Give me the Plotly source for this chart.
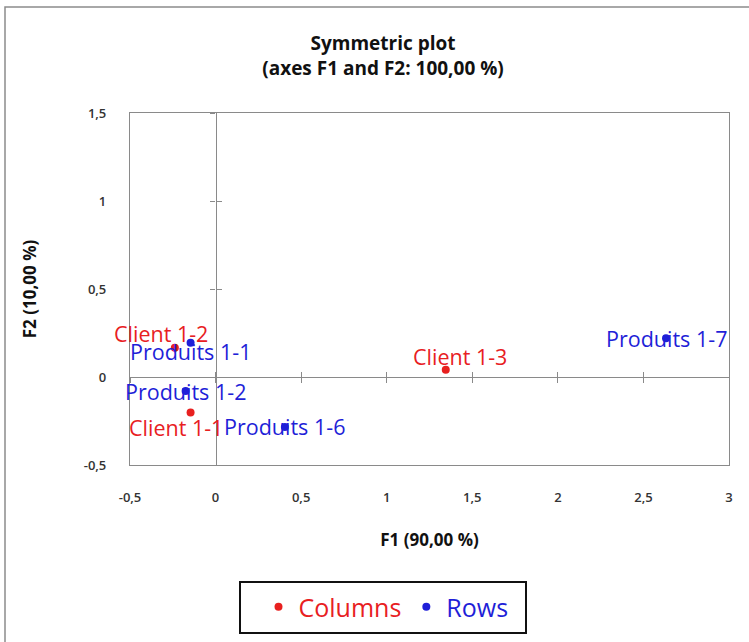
import plotly.graph_objects as go

# ---- data ----
col_labels = ["Client 1-1", "Client 1-2", "Client 1-3"]
col_f1 = [-0.146, -0.238, 1.345]
col_f2 = [-0.201, 0.166, 0.041]

row_labels = ["Produits 1-1", "Produits 1-2", "Produits 1-6", "Produits 1-7"]
row_f1 = [-0.146, -0.175, 0.405, 2.632]
row_f2 = [0.195, -0.080, -0.284, 0.220]

x_ticks = [-0.5, 0, 0.5, 1, 1.5, 2, 2.5, 3]
x_ticktext = ["-0,5", "0", "0,5", "1", "1,5", "2", "2,5", "3"]
y_ticks = [-0.5, 0, 0.5, 1, 1.5]
y_ticktext = ["-0,5", "0", "0,5", "1", "1,5"]

# label offsets (pixels) for data labels
col_shift = {"Client 1-1": (-15, -15), "Client 1-2": (-14, 14), "Client 1-3": (14, 13)}
row_shift = {"Produits 1-1": (0, -9)}

RED = "#e8201f"
BLUE = "#1f1fd8"
FONT = "Open Sans"
XR = [-0.5, 3]
YR = [-0.5, 1.5]

fig = go.Figure()
fig.add_trace(go.Scatter(x=col_f1, y=col_f2, mode="markers", name="<span style='color:%s'>Columns</span>" % RED,
                         marker=dict(color=RED, size=8)))
fig.add_trace(go.Scatter(x=row_f1, y=row_f2, mode="markers", name="<span style='color:%s'>Rows</span>" % BLUE,
                         marker=dict(color=BLUE, size=8)))
# empty helper traces so that the origin axes (crossing lines) are drawn
fig.add_trace(go.Scatter(x=[None], y=[None], xaxis="x2", yaxis="y2", showlegend=False, hoverinfo="skip"))
fig.add_trace(go.Scatter(x=[None], y=[None], xaxis="x3", yaxis="y3", showlegend=False, hoverinfo="skip"))

for lab, x, y in zip(col_labels, col_f1, col_f2):
    dx, dy = col_shift.get(lab, (0, 0))
    fig.add_annotation(x=x, y=y, text=lab, showarrow=False, xshift=dx, yshift=dy,
                       font=dict(family=FONT, size=21.5, color=RED))
for lab, x, y in zip(row_labels, row_f1, row_f2):
    dx, dy = row_shift.get(lab, (0, 0))
    fig.add_annotation(x=x, y=y, text=lab, showarrow=False, xshift=dx, yshift=dy,
                       font=dict(family=FONT, size=21.5, color=BLUE))

AX = "#8a8a8a"
pos_x0 = (0 - YR[0]) / (YR[1] - YR[0])
pos_y0 = (0 - XR[0]) / (XR[1] - XR[0])

helper = dict(showticklabels=False, showgrid=False, zeroline=False, tickcolor=AX, ticklen=5)

fig.update_layout(
    width=749, height=642,
    margin=dict(l=130, r=20, t=113, b=177),
    paper_bgcolor="white", plot_bgcolor="white",
    font=dict(family=FONT, color="#222"),
    title=dict(text="<b>Symmetric plot</b><br><b>(axes F1 and F2: 100,00 %)</b>",
               x=383 / 749, xanchor="center", y=1 - 50 / 642, yanchor="middle",
               font=dict(family=FONT, size=19, color="#111")),
    xaxis=dict(range=XR, tickvals=x_ticks, ticktext=x_ticktext, showgrid=False, zeroline=False,
               showline=True, linecolor=AX, linewidth=1.2, mirror=True, ticks="",
               ticklabelstandoff=20, tickfont=dict(size=13, color="#333", weight=600),
               title=dict(text="<b>F1 (90,00 %)</b>", standoff=29, font=dict(size=17, color="#111"))),
    yaxis=dict(range=YR, tickvals=y_ticks, ticktext=y_ticktext, showgrid=False, zeroline=False,
               showline=True, linecolor=AX, linewidth=1.2, mirror=True, ticks="",
               ticklabelstandoff=20, tickfont=dict(size=13, color="#333", weight=600),
               title=dict(text="<b>F2 (10,00 %)</b>", standoff=42, font=dict(size=17, color="#111"))),
    xaxis2=dict(range=XR, tickvals=x_ticks, overlaying="x", anchor="free", position=pos_x0,
                showline=True, linecolor=AX, linewidth=1.2, ticks="outside", **helper),
    yaxis2=dict(range=YR, tickvals=y_ticks, overlaying="y", anchor="free", position=pos_y0,
                showline=True, linecolor=AX, linewidth=1.2, ticks="outside", **helper),
    xaxis3=dict(range=XR, tickvals=x_ticks, overlaying="x", anchor="free", position=pos_x0,
                showline=False, ticks="inside", **helper),
    yaxis3=dict(range=YR, tickvals=y_ticks, overlaying="y", anchor="free", position=pos_y0,
                showline=False, ticks="inside", **helper),
    legend=dict(orientation="h", x=386 / 749, xref="container", xanchor="center",
                y=1 - 607 / 642, yref="container", yanchor="middle",
                borderwidth=0, bgcolor="rgba(0,0,0,0)",
                font=dict(family=FONT, size=25), itemsizing="trace", itemwidth=30),
    showlegend=True,
    shapes=[
        dict(type="rect", xref="paper", yref="paper",
             x0=(5 - 130) / 599, x1=1.2, y0=-0.7, y1=1 + (113 - 7) / 352,
             line=dict(color="#8c8c8c", width=1.5), layer="below"),
        # legend frame
        dict(type="rect", xref="paper", yref="paper",
             x0=(240 - 130) / 599, x1=(526 - 130) / 599,
             y0=-(633 - 465) / 352, y1=-(582 - 465) / 352,
             line=dict(color="#111", width=2), layer="below"),
    ],
)

fig.write_html("out.html")
